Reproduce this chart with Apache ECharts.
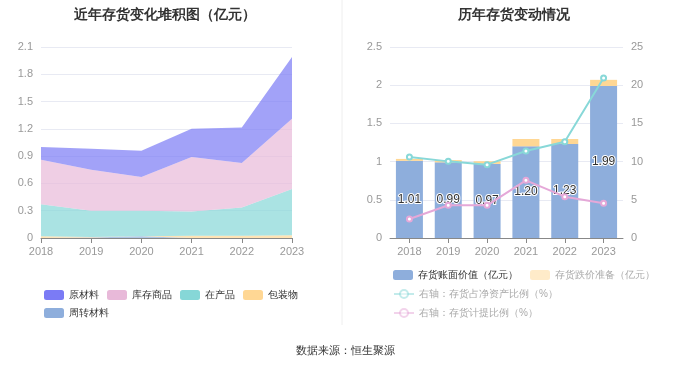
<!DOCTYPE html>
<html><head><meta charset="utf-8">
<script src="https://cdn.jsdelivr.net/npm/echarts@6/dist/echarts.min.js"></script>
<style>html,body{margin:0;padding:0;background:#fff}#c{width:680px;height:367px}</style>
</head><body><div id="c"></div>
<script>
var years = ['2018','2019','2020','2021','2022','2023'];
var rawMaterial = [0.14, 0.23, 0.29, 0.31, 0.39, 0.68];
var goodsStock = [0.49, 0.45, 0.37, 0.60, 0.49, 0.77];
var wip = [0.35, 0.29, 0.28, 0.265, 0.31, 0.51];
var packaging = [0.02, 0.005, 0, 0.025, 0.025, 0.03];
var turnover = [0, 0.005, 0.02, 0, 0, 0];
var leftTicks = [0, 0.3, 0.6, 0.9, 1.2, 1.5, 1.8, 2.1];

var bookValue = [1.01, 0.99, 0.97, 1.20, 1.23, 1.99];
var reserve = [0.025, 0.03, 0.035, 0.096, 0.066, 0.08];
var ratioNetAssets = [10.6, 10.03, 9.6, 11.39, 12.6, 20.94];
var ratioProvision = [2.49, 4.28, 4.28, 7.55, 5.41, 4.54];

var cPurple = '#7b7bf5', cPink = '#e8b9d9', cTeal = '#86d7d7', cYellow = '#ffd794', cBlue = '#8eaedc';
var axisLabel = {color:'#999', fontSize:11};
function area(name, data, color){
  return {name:name, type:'line', stack:'inv', data:data, xAxisIndex:0, yAxisIndex:0,
    symbol:'none', lineStyle:{width:0}, itemStyle:{color:color}, areaStyle:{color:color, opacity:0.7}};
}
var fadedItem = function(name){
  return {name:name, textStyle:{color:'#aaa'}, itemStyle:{opacity:0.5}, lineStyle:{opacity:0.5}};
};
var chart = echarts.init(document.getElementById('c'));
chart.setOption({
  animation:false,
  title:[
    {text:'近年存货变化堆积图（亿元）', left:160, top:3, textAlign:'center', textStyle:{fontSize:14, fontWeight:'bold', color:'#333'}},
    {text:'历年存货变动情况', left:509, top:3, textAlign:'center', textStyle:{fontSize:14, fontWeight:'bold', color:'#333'}},
    {text:'数据来源：恒生聚源', left:340, top:340, textAlign:'center', textStyle:{fontSize:11, fontWeight:'normal', color:'#333'}}
  ],
  graphic:[{type:'line', shape:{x1:342, y1:0, x2:342, y2:325}, style:{stroke:'#eee', lineWidth:1}}],
  grid:[
    {left:41, right:388, top:47, bottom:129},
    {left:390, right:57, top:47, bottom:129}
  ],
  legend:[
    {left:39, top:285, width:280, itemWidth:20, itemHeight:10, itemGap:8, icon:'roundRect',
     textStyle:{color:'#333', fontSize:10},
     data:['原材料','库存商品','在产品','包装物','周转材料']},
    {left:388, top:265, itemWidth:20, itemHeight:10, itemGap:12, icon:'roundRect', textStyle:{fontSize:10},
     data:[
      {name:'存货账面价值（亿元）', textStyle:{color:'#333'}},
      fadedItem('存货跌价准备（亿元）')
     ]},
    {left:388, top:284, itemWidth:20, itemHeight:10, textStyle:{fontSize:10},
     data:[fadedItem('右轴：存货占净资产比例（%）')]},
    {left:388, top:303, itemWidth:20, itemHeight:10, textStyle:{fontSize:10},
     data:[fadedItem('右轴：存货计提比例（%）')]}
  ],
  xAxis:[
    {type:'category', gridIndex:0, data:years, boundaryGap:false, axisLabel:axisLabel,
     axisLine:{lineStyle:{color:'#888'}}, axisTick:{show:true, lineStyle:{color:'#888'}}},
    {type:'category', gridIndex:1, data:years, axisLabel:axisLabel,
     axisLine:{lineStyle:{color:'#888'}}, axisTick:{show:true, alignWithLabel:true, lineStyle:{color:'#888'}}}
  ],
  yAxis:[
    {type:'value', gridIndex:0, min:leftTicks[0], max:leftTicks[leftTicks.length-1], interval:0.3, axisLabel:axisLabel,
     splitLine:{lineStyle:{color:'#e8eaf3'}}, axisLine:{show:false}},
    {type:'value', gridIndex:1, min:0, max:2.5, interval:0.5, axisLabel:axisLabel,
     splitLine:{lineStyle:{color:'#e8eaf3'}}, axisLine:{show:false}},
    {type:'value', gridIndex:1, min:0, max:25, interval:5, position:'right', axisLabel:axisLabel,
     splitLine:{show:false}, axisLine:{show:false}}
  ],
  series:[
    area('周转材料', turnover, cBlue),
    area('包装物', packaging, cYellow),
    area('在产品', wip, cTeal),
    area('库存商品', goodsStock, cPink),
    area('原材料', rawMaterial, cPurple),
    {name:'存货账面价值（亿元）', type:'bar', stack:'bar', xAxisIndex:1, yAxisIndex:1, data:bookValue, barWidth:27,
     itemStyle:{color:cBlue},
     label:{show:true, position:'inside', formatter:function(p){return p.value.toFixed(2);}, color:'#333', fontSize:12,
       textBorderColor:'#fff', textBorderWidth:2}},
    {name:'存货跌价准备（亿元）', type:'bar', stack:'bar', xAxisIndex:1, yAxisIndex:1, data:reserve, barWidth:27,
     itemStyle:{color:cYellow}},
    {name:'右轴：存货占净资产比例（%）', type:'line', xAxisIndex:1, yAxisIndex:2, data:ratioNetAssets,
     symbol:'emptyCircle', symbolSize:5, lineStyle:{width:2, color:'#88d8d8'}, itemStyle:{color:'#88d8d8'}},
    {name:'右轴：存货计提比例（%）', type:'line', xAxisIndex:1, yAxisIndex:2, data:ratioProvision,
     symbol:'emptyCircle', symbolSize:5, lineStyle:{width:2, color:'#e5a8d8'}, itemStyle:{color:'#e5a8d8'}}
  ]
});
</script></body></html>
